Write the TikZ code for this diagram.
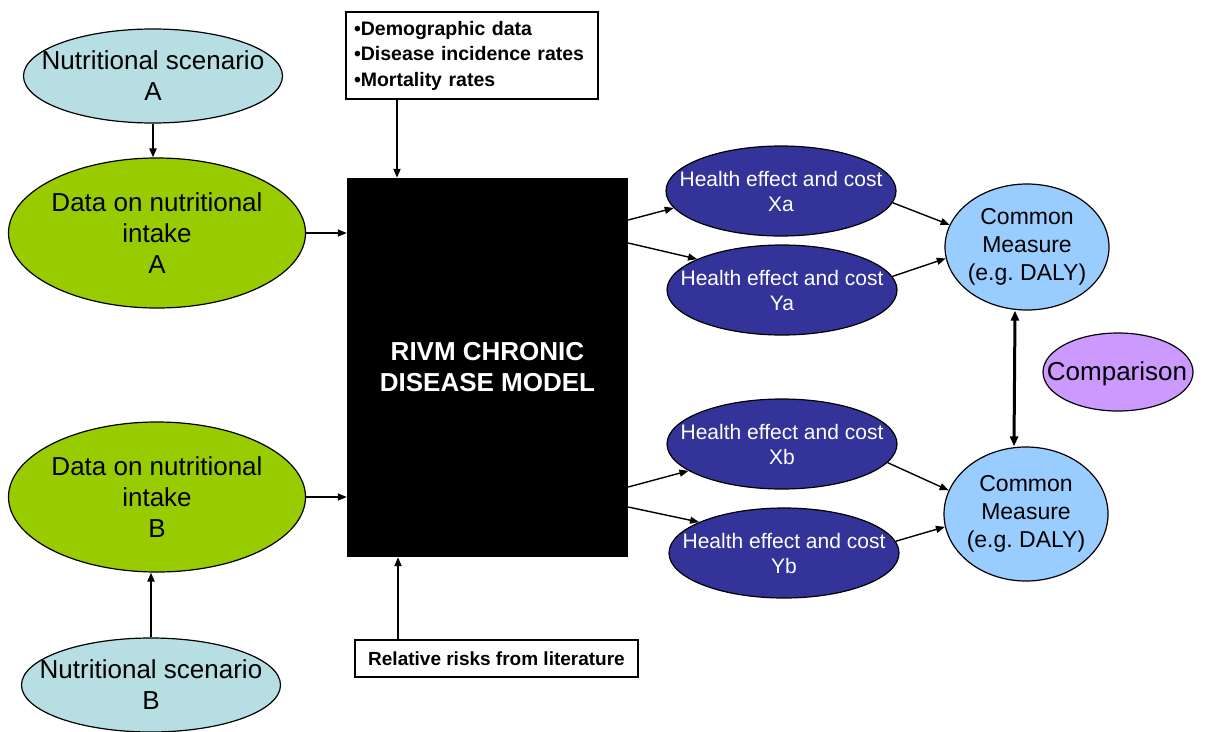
\documentclass[tikz,border=0pt]{standalone}
\usepackage{fontspec}
\setmainfont{Liberation Sans}
\usetikzlibrary{shapes.geometric,arrows.meta}
\definecolor{scen}{RGB}{183,222,227}
\definecolor{datag}{RGB}{153,204,0}
\definecolor{navy}{RGB}{51,51,153}
\definecolor{common}{RGB}{153,204,255}
\definecolor{compar}{RGB}{204,153,255}
\frenchspacing
\tikzset{
  ell/.style={ellipse, draw=black, line width=1.2pt, inner sep=0pt},
  txt/.style={align=center, inner sep=0pt},
  bigtxt/.style={txt, font=\fontsize{26}{31}\selectfont},
  hetxt/.style={txt, text=white, font=\fontsize{21}{25}\selectfont},
  cmtxt/.style={txt, font=\fontsize{23}{28}\selectfont},
  healthell/.style={ell, fill=navy, minimum width=230pt, minimum height=90pt},
  arr/.style={-{Triangle[length=9pt,width=7pt]}, line width=1.4pt},
  varr/.style={-{Triangle[length=9pt,width=7pt]}, line width=2pt},
  dblarr/.style={{Triangle[length=10pt,width=8pt]}-{Triangle[length=10pt,width=8pt]}, line width=3pt},
  infobox/.style={draw=black, line width=1.2pt, fill=white},
}
\begin{document}
\begin{tikzpicture}[x=1pt,y=-1pt]
\path[use as bounding box] (0,0) rectangle (1206,731);

% left column
\node[ell, fill=scen, minimum width=259pt, minimum height=94pt] (sA) at (153,76) {};
\node[bigtxt] (sAt) at (sA) {Nutritional scenario\\A};
\node[ell, fill=datag, minimum width=297pt, minimum height=150pt] (dA) at (157,233) {};
\node[bigtxt] (dAt) at (dA) {Data on nutritional\\intake\\A};
\node[ell, fill=datag, minimum width=297pt, minimum height=150pt] (dB) at (157,497) {};
\node[bigtxt] (dBt) at (dB) {Data on nutritional\\intake\\B};
\node[ell, fill=scen, minimum width=259pt, minimum height=94pt] (sB) at (151,685) {};
\node[bigtxt] (sBt) at (sB) {Nutritional scenario\\B};

% model
\node[fill=black, draw=none, minimum width=281pt, minimum height=379pt, inner sep=0pt] (model) at (487.5,367.5) {};
\node[txt, text=white, font=\bfseries\fontsize{26}{31}\selectfont] (modelt) at (model) {RIVM CHRONIC\\DISEASE MODEL};

% input boxes
\node[infobox, minimum width=252pt, minimum height=87pt, inner sep=8pt, text width=236pt, align=left,
      font=\bfseries\fontsize{19.5}{25.5}\selectfont] (tb) at (472,55.5)
      {•Demographic data\\•Disease incidence rates\\•Mortality rates};
\node[infobox, minimum width=283pt, minimum height=37pt, inner sep=0pt,
      font=\bfseries\fontsize{19}{23}\selectfont] (bb) at (496.5,658.5) {Relative risks from literature};

% health effects
\node[healthell] (Xa) at (781,191) {};
\node[hetxt] (Xat) at (Xa) {Health effect and cost\\Xa};
\node[healthell] (Ya) at (782,290) {};
\node[hetxt] (Yat) at (Ya) {Health effect and cost\\Ya};
\node[healthell] (Xb) at (782,444) {};
\node[hetxt] (Xbt) at (Xb) {Health effect and cost\\Xb};
\node[healthell] (Yb) at (784,553) {};
\node[hetxt] (Ybt) at (Yb) {Health effect and cost\\Yb};

% common measures
\node[ell, fill=common, minimum width=164pt, minimum height=126pt] (Ca) at (1027,247) {};
\node[cmtxt] (Cat) at (Ca) {Common\\Measure\\(e.g. DALY)};
\node[ell, fill=common, minimum width=164pt, minimum height=134pt] (Cb) at (1026,514) {};
\node[cmtxt] (Cbt) at (Cb) {Common\\Measure\\(e.g. DALY)};

% comparison
\node[ell, fill=compar, minimum width=150pt, minimum height=78pt] (Cmp) at (1118,372) {};
\node[txt, font=\fontsize{26}{31}\selectfont] (Cmpt) at (1117,374) {Comparison};

% connectors
\draw[varr] (sA.south) -- (sA.south |- dA.north);
\draw[varr] (sB.north) -- (sB.north |- dB.south);
\draw[arr] (dA.east) -- (dA.east -| model.west);
\draw[arr] (dB.east) -- (dB.east -| model.west);
\draw[varr] (tb.south -| 397,0) -- (model.north -| 397,0);
\draw[varr] (bb.north -| 398,0) -- (model.south -| 398,0);

\draw[arr] (model.east |- 0,220) -- (Xa.189);
\draw[arr] (model.east |- 0,243) -- (Ya.160);
\draw[arr] (model.east |- 0,487) -- (Xb.196);
\draw[arr] (model.east |- 0,507) -- (Yb.160);

\draw[arr] (Xa.354) -- (Ca.164);
\draw[arr] (Ya.7) -- (Ca.188);
\draw[arr] (Xb.350) -- (Cb.163);
\draw[arr] (Yb.6) -- (Cb.189);

\draw[dblarr] ([xshift=-12pt]Ca.south) -- ([xshift=-12pt]Cb.north);
\end{tikzpicture}
\end{document}
